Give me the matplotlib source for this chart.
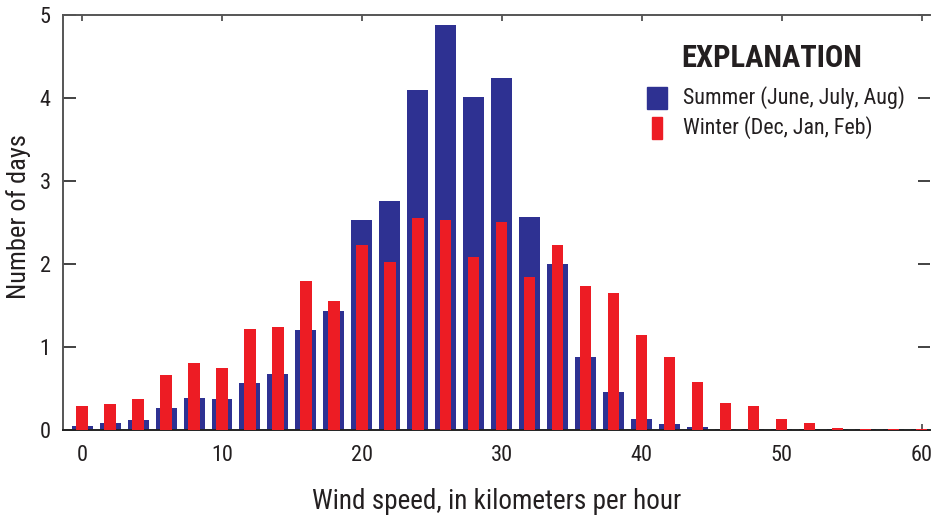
import numpy as np
import matplotlib.pyplot as plt
from matplotlib.patches import Rectangle

plt.rcParams['font.family'] = ['Roboto Condensed', 'Archivo Narrow', 'DejaVu Sans']

# wind speed bins, km/h
speed = np.arange(0, 62, 2)

summer = [0.05, 0.08, 0.12, 0.26, 0.38, 0.37, 0.57, 0.68, 1.21, 1.43,
          2.53, 2.76, 4.10, 4.88, 4.01, 4.24, 2.57, 2.00, 0.88, 0.46,
          0.13, 0.07, 0.03, 0.01, 0.01, 0.01, 0.01, 0.01, 0.01, 0.01, 0.01]
winter = [0.29, 0.31, 0.37, 0.66, 0.81, 0.75, 1.22, 1.24, 1.80, 1.55,
          2.23, 2.02, 2.56, 2.53, 2.08, 2.51, 1.84, 2.23, 1.73, 1.65,
          1.14, 0.88, 0.58, 0.32, 0.29, 0.13, 0.08, 0.02, 0.015, 0.015, 0.01]

blue = '#2e3192'
red = '#ed1c24'
ink = '#231f20'

fig = plt.figure(figsize=(9.31, 5.16), dpi=100)
ax = fig.add_axes([0.0677, 0.1667, 0.9313, 0.8042])

ax.bar(speed, summer, width=1.5, color=blue, zorder=2)
ax.bar(speed, winter, width=0.8, color=red, zorder=3)

ax.set_xlim(-1.36, 60.6)
ax.set_ylim(0, 5)
ax.set_xticks(np.arange(0, 61, 10))
ax.set_yticks(np.arange(0, 6, 1))

for s in ['left', 'top']:
    ax.spines[s].set_color('#555555')
    ax.spines[s].set_linewidth(1.4)
ax.spines['bottom'].set_color('#222222')
ax.spines['bottom'].set_linewidth(1.4)
ax.spines['right'].set_visible(False)

ax.tick_params(axis='x', which='both', direction='in', top=True, length=4,
               width=1.2, color='#444444', pad=11, labelsize=16,
               labelcolor=ink)
ax.tick_params(axis='y', direction='in', left=True, right=True, length=9,
               width=1.2, color='#222222', pad=9, labelsize=16,
               labelcolor=ink)

ax.set_xlabel('Wind speed, in kilometers per hour', fontsize=19.5,
              color=ink, labelpad=16)
ax.set_ylabel('Number of days', fontsize=19, color=ink)
ax.yaxis.set_label_coords(-0.037, 0.514)

# explanation box
fig.text(681 / 931, 1 - 58 / 516, 'EXPLANATION', fontsize=22,
         fontweight='bold', color=ink, ha='left', va='center')
fig.patches.append(Rectangle((647 / 931, 1 - 109 / 516), 20 / 931, 22 / 516,
                             transform=fig.transFigure, color=blue))
fig.patches.append(Rectangle((652 / 931, 1 - 139 / 516), 10 / 931, 22 / 516,
                             transform=fig.transFigure, color=red))
fig.text(683 / 931, 1 - 98 / 516, 'Summer (June, July, Aug)', fontsize=15.8,
         color=ink, ha='left', va='center')
fig.text(683 / 931, 1 - 128 / 516, 'Winter (Dec, Jan, Feb)', fontsize=15.8,
         color=ink, ha='left', va='center')

fig.savefig('out.png', dpi=100, facecolor='white')
